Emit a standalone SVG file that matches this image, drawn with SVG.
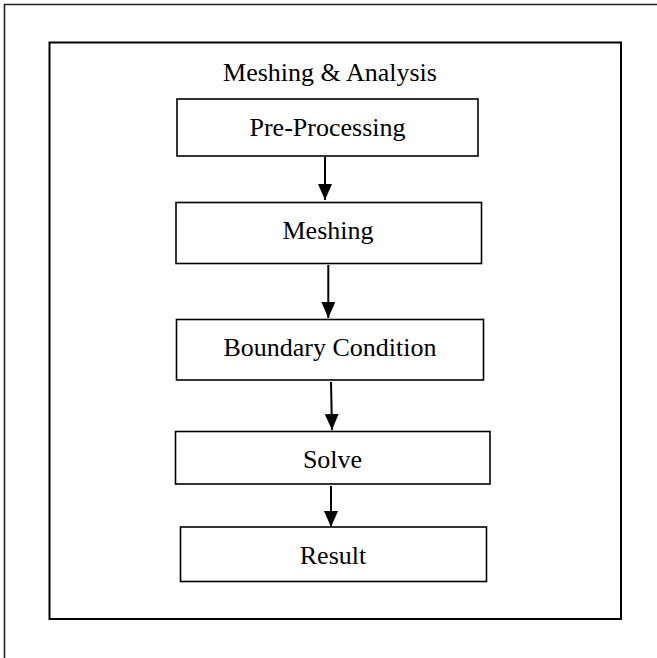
<svg xmlns="http://www.w3.org/2000/svg" width="657" height="658" viewBox="0 0 657 658">
<defs>
<style>
.box{fill:#fff;stroke:#000;stroke-width:1.6}
.t{font-family:"Liberation Serif","Times New Roman",serif;font-size:26px;fill:#000;text-anchor:middle}
.c{stroke:#000;stroke-width:2;fill:none}
</style>
<marker id="ah" markerUnits="userSpaceOnUse" markerWidth="16" markerHeight="14" refX="16" refY="7" orient="auto">
<path d="M0,0 L16,7 L0,14 Z" fill="#000"/>
</marker>
</defs>
<rect width="657" height="658" fill="#fff"/>
<path d="M4.5,658 V4.5 H657" fill="none" stroke="#222" stroke-width="1.6"/>
<g id="container">
<rect x="49.5" y="42.5" width="571.5" height="576.5" fill="none" stroke="#000" stroke-width="2"/>
<text class="t" x="330" y="81">Meshing &amp; Analysis</text>
</g>
<g id="preprocessing">
<rect class="box" x="177" y="99" width="301" height="57"/>
<text class="t" x="327.5" y="136">Pre-Processing</text>
</g>
<g id="meshing">
<rect class="box" x="176" y="202.5" width="305.5" height="61"/>
<text class="t" x="328" y="239">Meshing</text>
</g>
<g id="boundary">
<rect class="box" x="176.5" y="319.5" width="307" height="60.5"/>
<text class="t" x="330" y="356">Boundary Condition</text>
</g>
<g id="solve">
<rect class="box" x="175.5" y="431.5" width="314.5" height="52.5"/>
<text class="t" x="332.5" y="467.5">Solve</text>
</g>
<g id="result">
<rect class="box" x="180.5" y="527" width="306" height="54.5"/>
<text class="t" x="333" y="563.5">Result</text>
</g>
<g id="connectors">
<line class="c" x1="325" y1="157" x2="325" y2="200" marker-end="url(#ah)"/>
<line class="c" x1="328.3" y1="265" x2="328.3" y2="318" marker-end="url(#ah)"/>
<line class="c" x1="331" y1="382" x2="332" y2="430" marker-end="url(#ah)"/>
<line class="c" x1="331" y1="486" x2="331" y2="527" marker-end="url(#ah)"/>
</g>
</svg>
